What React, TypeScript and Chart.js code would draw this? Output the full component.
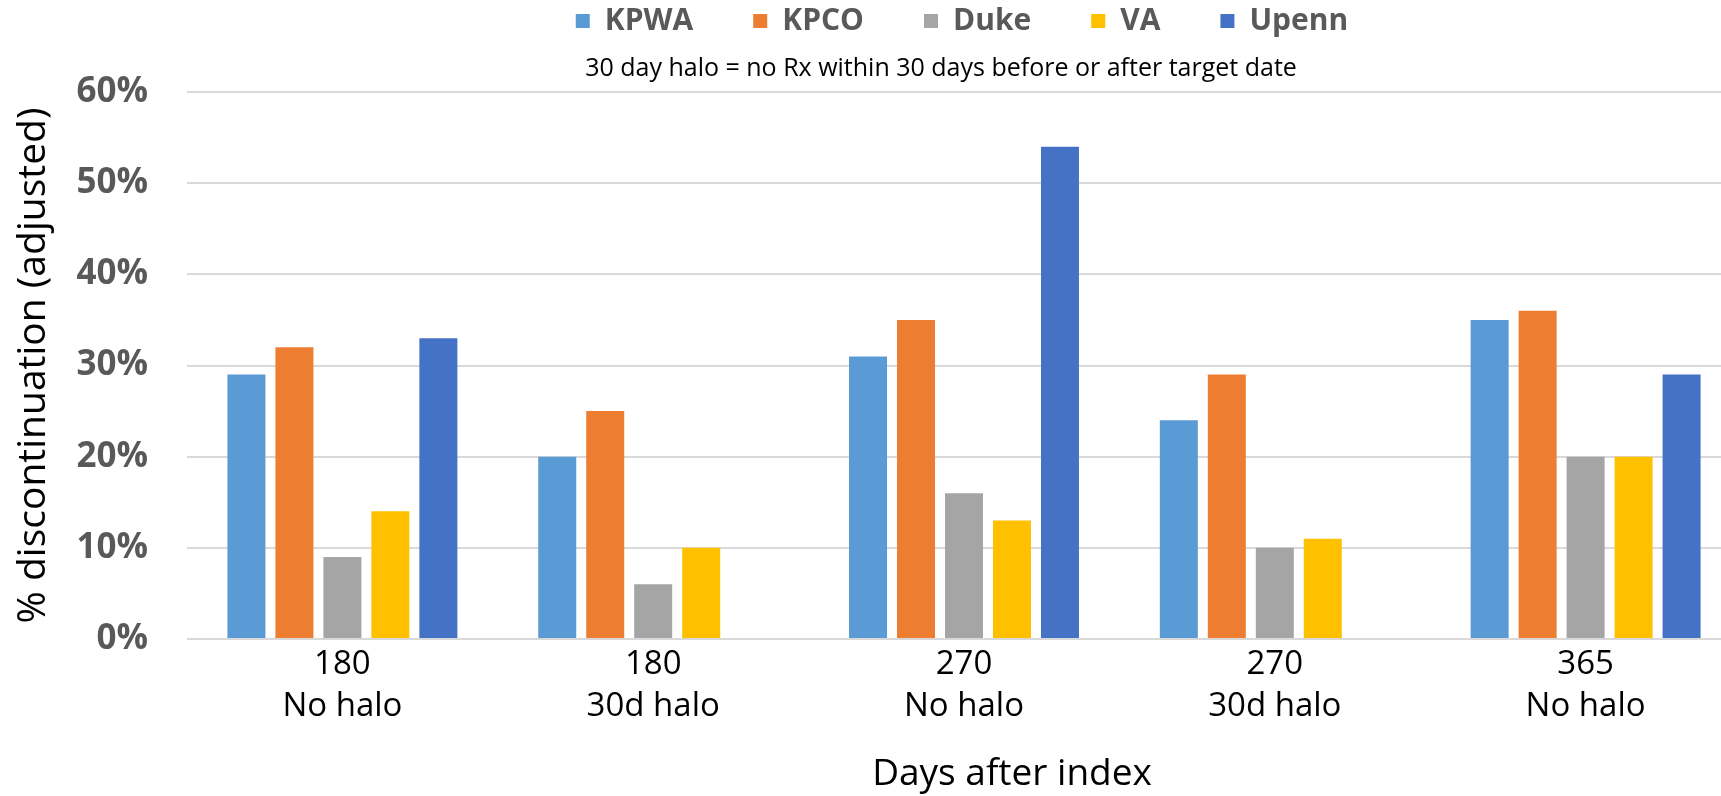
import React, { useEffect, useRef } from "react";
import { Chart, registerables } from "chart.js";

Chart.register(...registerables);

const days = ["180", "180", "270", "270", "365"];
const halo = ["No halo", "30d halo", "No halo", "30d halo", "No halo"];
const seriesNames = ["KPWA", "KPCO", "Duke", "VA", "Upenn"];
const kpwa = [29, 20, 31, 24, 35];
const kpco = [32, 25, 35, 29, 36];
const duke = [9, 6, 16, 10, 20];
const va = [14, 10, 13, 11, 20];
const upenn = [33, null, 54, null, 29];
const seriesColors = ["#5B9BD5", "#ED7D31", "#A5A5A5", "#FFC000", "#4472C4"];
const yMin = 0;
const yMax = 60;
const yStep = 10;
const subtitleText = "30 day halo = no Rx within 30 days before or after target date";
const yTitle = "% discontinuation (adjusted)";
const xTitle = "Days after index";

const xTitlePlugin = {
  id: "xTitleText",
  afterLayout(chart: any) {
    // shift the subtitle box slightly left, as in the reference
    for (const box of chart.boxes) {
      if (box && box.options && box.options.text === subtitleText) {
        box.left -= 21;
        box.right -= 21;
      }
    }
  },
  afterDraw(chart: any) {
    const { ctx, chartArea } = chart;
    ctx.save();
    ctx.font = '37px "Open Sans"';
    ctx.fillStyle = "#000000";
    ctx.textAlign = "center";
    ctx.textBaseline = "middle";
    ctx.fillText(xTitle, chartArea.left + 825, chartArea.bottom + 135);
    ctx.restore();
  },
};

export default function App() {
  const ref = useRef<HTMLCanvasElement | null>(null);

  useEffect(() => {
    let chart: Chart | null = null;
    let cancelled = false;
    const build = () => {
      if (cancelled || !ref.current) return;
      const values = [kpwa, kpco, duke, va, upenn];
      chart = new Chart(ref.current, {
        type: "bar",
        data: {
          labels: days.map((d, i) => [d, halo[i]]),
          datasets: seriesNames.map((name, i) => ({
            label: name,
            data: values[i],
            backgroundColor: seriesColors[i],
            borderWidth: 0,
            categoryPercentage: 0.772,
            barPercentage: 0.792,
          })),
        },
        options: {
          responsive: false,
          animation: false,
          layout: { padding: { top: -54, left: 0, right: 0, bottom: 0 } },
          plugins: {
            legend: {
              position: "top",
              weight: 1000,
              labels: {
                boxWidth: 14,
                boxHeight: 14,
                padding: 60,
                color: "#595959",
                font: { family: "Open Sans", size: 30, weight: "bold" },
              },
            },
            subtitle: {
              display: true,
              text: subtitleText,
              weight: 500,
              color: "#000000",
              font: { family: "Open Sans", size: 25, weight: "normal" },
              padding: { top: 8, bottom: 8 },
            },
            tooltip: { enabled: false },
          },
          scales: {
            x: {
              grid: { display: false },
              border: { display: false },
              ticks: {
                color: "#000000",
                font: { family: "Open Sans", size: 33, lineHeight: 1.27 },
                padding: -3,
                maxRotation: 0,
                autoSkip: false,
              },
              afterFit: (s: any) => {
                s.height = 157;
              },
            },
            y: {
              min: yMin,
              max: yMax,
              border: { display: false },
              grid: { color: "#D9D9D9", lineWidth: 2, drawTicks: false },
              ticks: {
                stepSize: yStep,
                color: "#595959",
                padding: 39,
                font: { family: "Open Sans", size: 35, weight: "bold" },
                callback: (v: any) => v + "%",
              },
              title: {
                display: true,
                text: yTitle,
                color: "#000000",
                font: { family: "Open Sans", size: 39 },
                padding: { top: 10, bottom: 0 },
              },
              afterFit: (s: any) => {
                s.width = 187;
              },
            },
            yRight: {
              type: "linear",
              position: "right",
              display: true,
              grid: { display: false },
              border: { display: false },
              ticks: { display: false },
              afterFit: (s: any) => {
                s.width = 183;
              },
            },
          },
        },
        plugins: [xTitlePlugin],
      } as any);
    };
    const fonts = (document as any).fonts;
    if (fonts && fonts.load) {
      Promise.all([
        fonts.load('32px "Open Sans"'),
        fonts.load('bold 32px "Open Sans"'),
      ]).then(build, build);
    } else {
      build();
    }
    return () => {
      cancelled = true;
      if (chart) chart.destroy();
    };
  }, []);

  return (
    <div
      style={{
        position: "fixed",
        left: 0,
        top: 0,
        width: 1721,
        height: 796,
        overflow: "hidden",
        background: "#ffffff",
      }}
    >
      <canvas ref={ref} width={1924} height={796} style={{ display: "block" }} />
    </div>
  );
}
